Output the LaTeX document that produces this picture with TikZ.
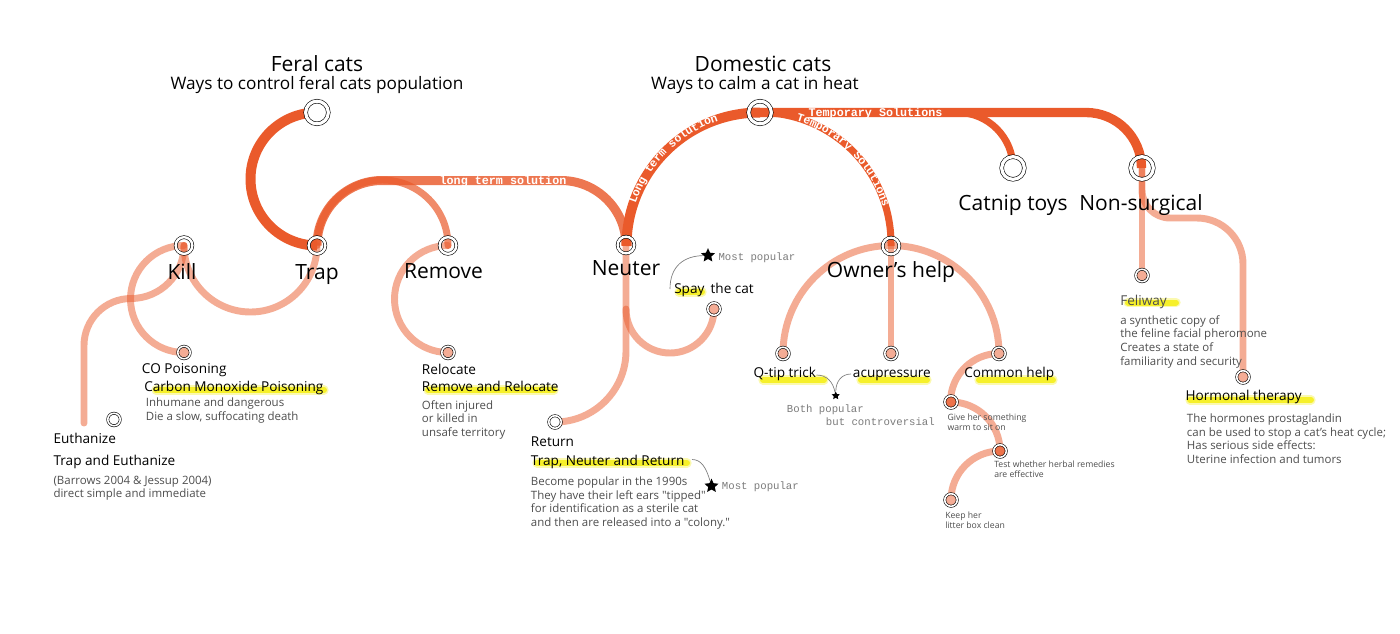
\documentclass[tikz,border=0pt]{standalone}
\usepackage{fontspec}
\setmainfont{Open Sans}
\newfontfamily\descf{Open Sans}
\newfontfamily\monof{Liberation Mono}
\usetikzlibrary{shapes.geometric,decorations.text,calc}
\pgfdeclarelayer{background}
\pgfdeclarelayer{hilite}
\pgfsetlayers{background,hilite,main}
\definecolor{corange}{HTML}{EA5A2B}
\definecolor{hly}{HTML}{F6F01C}
\definecolor{dgray}{HTML}{4E4E4E}
\definecolor{mgray}{HTML}{7C7C7C}
\newcommand\mlines[1]{\begin{tabular}[t]{@{}l@{}}#1\end{tabular}}
\begin{document}
\begin{tikzpicture}[x=0.75pt,y=-0.75pt,
  ring/.style={circle,draw=black,double=white,line width=0.45pt,inner sep=0pt,outer sep=0pt},
  bigring/.style={ring,minimum size=17pt,double distance=2.4pt},
  midring/.style={ring,minimum size=12.5pt,double distance=1.8pt},
  smring/.style={ring,minimum size=9.4pt,double distance=1.2pt,fill=corange!50},
  darkln/.style={draw=corange,line width=7.5pt},
  medln/.style={draw=corange,draw opacity=0.82,line width=6.75pt},
  thinln/.style={draw=corange,line width=5.25pt},
  lightln/.style={draw=corange,draw opacity=0.5,line width=5.2pt,line cap=round},
  hl/.style={draw=hly,line cap=round,line width=4.5pt,draw opacity=0.9,
     preaction={draw=hly,draw opacity=0.35,line width=7pt,line cap=round}},
  conn/.style={draw=mgray,line width=0.5pt},
  starn/.style={star,star points=5,star point ratio=2.1,fill=black,inner sep=0pt,minimum size=11pt},
  ttl/.style={font=\fontsize{15.75}{18}\selectfont,anchor=base,inner sep=0pt},
  sub/.style={font=\fontsize{12.9}{15}\selectfont,anchor=base,inner sep=0pt},
  big/.style={font=\fontsize{15.75}{18}\selectfont,anchor=base,inner sep=0pt},
  lab/.style={font=\fontsize{10.2}{12}\selectfont,anchor=base west,inner sep=0pt},
  dsc/.style={font=\descf\fontsize{8.6}{10.2}\selectfont,text=dgray,anchor=base west,inner sep=0pt},
  tiny/.style={font=\descf\fontsize{6.5}{7.5}\selectfont,text=dgray,anchor=base west,inner sep=0pt},
  mono/.style={font=\monof\fontsize{8}{9.5}\selectfont,text=mgray,anchor=base west,inner sep=0pt},
  onln/.style={font=\monof\bfseries\fontsize{8.8}{9}\selectfont,text=white,anchor=mid,inner sep=0pt},
]
\useasboundingbox (0,0) rectangle (1400,633);
% ---------- stations ----------
\node[bigring,fill=white] (feral) at (317,112.5) {};
\node[bigring] (dom) at (760,112.5) {};
\node[bigring,fill=white] (catnip) at (1013,168) {};
\node[bigring] (nonsurg) at (1142,168) {};
\node[midring] (kill) at (184,245.5) {};
\node[midring] (trap) at (317,245.5) {};
\node[midring] (remove) at (448,245.5) {};
\node[midring] (neuter) at (626,245) {};
\node[midring] (owner) at (891,246) {};
\node[smring] (co) at (184,352.5) {};
\node[smring,fill=white] (euth) at (114,419.5) {};
\node[smring] (reloc) at (448,352.5) {};
\node[smring,fill=white] (ret) at (555,422) {};
\node[smring] (spay) at (714,309) {};
\node[smring] (qtip) at (783,353.5) {};
\node[smring] (acu) at (891,353.5) {};
\node[smring] (common) at (999,353.5) {};
\node[smring,fill=corange!85] (give) at (951,402) {};
\node[smring,fill=corange!85] (test) at (1000,451) {};
\node[smring] (keep) at (951,500) {};
\node[smring] (feliway) at (1142,275.5) {};
\node[smring] (hormonal) at (1243,377) {};
\coordinate (euthend) at (84,423);
% ---------- lines ----------
\begin{pgfonlayer}{background}
\fill[white] (0,0) rectangle (1400,633);
\draw[darkln] (feral.center) arc[start angle=270,end angle=90,radius=66.5];
\draw[lightln] (kill.center) arc[start angle=180,end angle=0,radius=66.5];
\draw[lightln] (kill.center) arc[start angle=270,end angle=90,radius=53.5];
\draw[lightln] (kill.center) arc[start angle=0,end angle=90,radius=53] arc[start angle=270,end angle=180,radius=47] -- (euthend);
\draw[lightln,draw opacity=0.7] (trap.center) arc[start angle=180,end angle=360,radius=65.5];
\draw[medln] (trap.center) arc[start angle=180,end angle=270,radius=65] -- ++(179,0) arc[start angle=270,end angle=360,radius=65];
\draw[lightln] (remove.center) arc[start angle=270,end angle=90,radius=53.5];
\draw[lightln] (neuter.center) -- ++(0,106) arc[start angle=0,end angle=90,radius=71];
\draw[lightln] (neuter.center |- spay.center) arc[start angle=180,end angle=0,radius=44];
\draw[darkln] (dom.center) arc[start angle=270,end angle=180,radius=133.5];
\draw[thinln] (dom.center) arc[start angle=270,end angle=360,radius=131] -- (owner.center);
\draw[darkln,line width=7pt] (dom.center) -- ++(326,0) arc[start angle=270,end angle=360,radius=55.5];
\draw[thinln] ($(dom.center -| catnip.center)+(-55.5,0)$) arc[start angle=270,end angle=360,radius=55.5];
\draw[lightln] (nonsurg.center) -- (feliway.center);
\draw[lightln] (nonsurg.center) -- ++(0,22) arc[start angle=180,end angle=90,radius=28] -- ++(27,0) arc[start angle=270,end angle=360,radius=46] -- (hormonal.center);
\draw[lightln] (qtip.center) arc[start angle=180,end angle=360,radius=108];
\draw[lightln] (owner.center) -- (acu.center);
\draw[lightln] (common.center) arc[start angle=270,end angle=180,radius=48.5];
\draw[lightln] (give.center) arc[start angle=270,end angle=360,radius=49];
\draw[lightln] (test.center) arc[start angle=270,end angle=180,radius=49];
\end{pgfonlayer}
% ---------- highlights ----------
\begin{pgfonlayer}{hilite}
\draw[hl] (156,390) -- (324,390);
\draw[hl] (428,390) -- (554,390);
\draw[hl] (537,463) -- (687,463);
\draw[hl] (679,292) -- (702,292);
\draw[hl] (763,380) -- (824,380);
\draw[hl] (861,380) -- (927,380);
\draw[hl] (979,380) -- (1053,380);
\draw[hl] (1128,302.5) -- (1176,302.5);
\draw[hl] (1190,400) -- (1311,400);
\end{pgfonlayer}
% ---------- texts on lines ----------
\path[decorate,decoration={text along path,text align=center,raise=-2.2pt,
   text={|\monof\bfseries\fontsize{8.6}{9}\selectfont\color{white}|Long term solution}}]
   (neuter.center) arc[start angle=180,end angle=270,radius=133.5];
\path[decorate,decoration={text along path,text align=center,raise=-2.2pt,
   text={|\monof\bfseries\fontsize{8.6}{9}\selectfont\color{white}|Temporary Solutions}}]
   (dom.center) arc[start angle=270,end angle=360,radius=131];
\node[onln] (ltsh) at (503,180.5) {long term solution};
\node[onln] (tsh) at (875.5,112.5) {Temporary Solutions};
% ---------- titles ----------
\node[ttl] (tferal) at (317,71.5) {Feral cats};
\node[sub] (sferal) at (317,89) {Ways to control feral cats population};
\node[ttl] (tdom) at (763,71) {Domestic cats};
\node[sub] (sdom) at (755,89) {Ways to calm a cat in heat};
% ---------- station labels ----------
\node[big] (lkill) at (182,279) {Kill};
\node[big] (ltrap) at (317,279) {Trap};
\node[big] (lremove) at (443.5,278) {Remove};
\node[big] (lneuter) at (626,275.5) {Neuter};
\node[big] (lowner) at (891,277.5) {Owner’s help};
\node[big] (lcatnip) at (1013,210) {Catnip toys};
\node[big] (lnonsurg) at (1141,210) {Non-surgical};
% ---------- secondary labels ----------
\node[lab] (lco) at (141.7,373.3) {CO Poisoning};
\node[lab] (lcmp) at (144,391) {Carbon Monoxide Poisoning};
\node[dsc] (dco) at (145.7,406.7) {\mlines{Inhumane and dangerous\\Die a slow, suffocating death}};
\node[lab] (leuth) at (53.3,443.3) {Euthanize};
\node[lab] (ltae) at (53.3,465.3) {Trap and Euthanize};
\node[dsc] (deuth) at (53.3,484.3) {\mlines{(Barrows 2004 \& Jessup 2004)\\direct simple and immediate}};
\node[lab] (lreloc) at (421.7,374) {Relocate};
\node[lab] (lrar) at (421.7,391.7) {Remove and Relocate};
\node[dsc] (dreloc) at (421.7,409.3) {\mlines{Often injured\\or killed in\\unsafe territory}};
\node[lab] (lret) at (530.7,446) {Return};
\node[lab] (ltnr) at (530.7,465) {Trap, Neuter and Return};
\node[dsc] (dret) at (530.7,485.7) {\mlines{Become popular in the 1990s\\They have their left ears "tipped"\\for identification as a sterile cat\\and then are released into a "colony."}};
\node[lab] (lspay) at (674,293.3) {Spay\hspace{0.45em}the cat};
\node[mono] (mp1) at (718.3,260) {Most popular};
\node[mono] (mp2) at (721.7,489.3) {Most popular};
\node[lab] (lqtip) at (753.3,377.7) {Q-tip trick};
\node[lab] (lacu) at (852.7,377.7) {acupressure};
\node[lab] (lcommon) at (964,377.7) {Common help};
\node[mono] (bp1) at (786.7,412.3) {Both popular};
\node[mono] (bp2) at (825.7,425) {but controversial};
\node[tiny] (tgive) at (947.3,420) {\mlines{Give her something\\warm to sit on}};
\node[tiny] (ttest) at (994,467.3) {\mlines{Test whether herbal remedies\\are effective}};
\node[tiny] (tkeep) at (945,518.7) {\mlines{Keep her\\litter box clean}};
\node[lab,text=dgray] (lfeli) at (1120,305) {Feliway};
\node[dsc] (dfeli) at (1120,324.3) {\mlines{a synthetic copy of\\the feline facial pheromone\\Creates a state of\\familiarity and security}};
\node[lab] (lhorm) at (1185.3,400) {Hormonal therapy};
\node[dsc] (dhorm) at (1186.7,422.7) {\mlines{The hormones prostaglandin\\can be used to stop a cat’s heat cycle;\\Has serious side effects:\\Uterine infection and tumors}};
% ---------- stars and pointers ----------
\node[starn] (star1) at (708,255.5) {};
\node[starn] (star2) at (711.5,486) {};
\node[starn,minimum size=6.5pt] (star3) at (835.7,395.7) {};
\coordinate (c1) at (670,289);
\coordinate (c2) at (692,459.5);
\coordinate (c3) at (816.5,375);
\coordinate (c4) at (851,374);
\draw[conn] (c1) .. controls (670,266) and (684,256) .. (star1);
\draw[conn] (c2) .. controls (701,459.5) and (706,467) .. (star2);
\draw[conn] (c3) .. controls (827,375) and (833,382) .. (star3);
\draw[conn] (c4) .. controls (841,374) and (836,382) .. (star3);
\end{tikzpicture}
\end{document}
